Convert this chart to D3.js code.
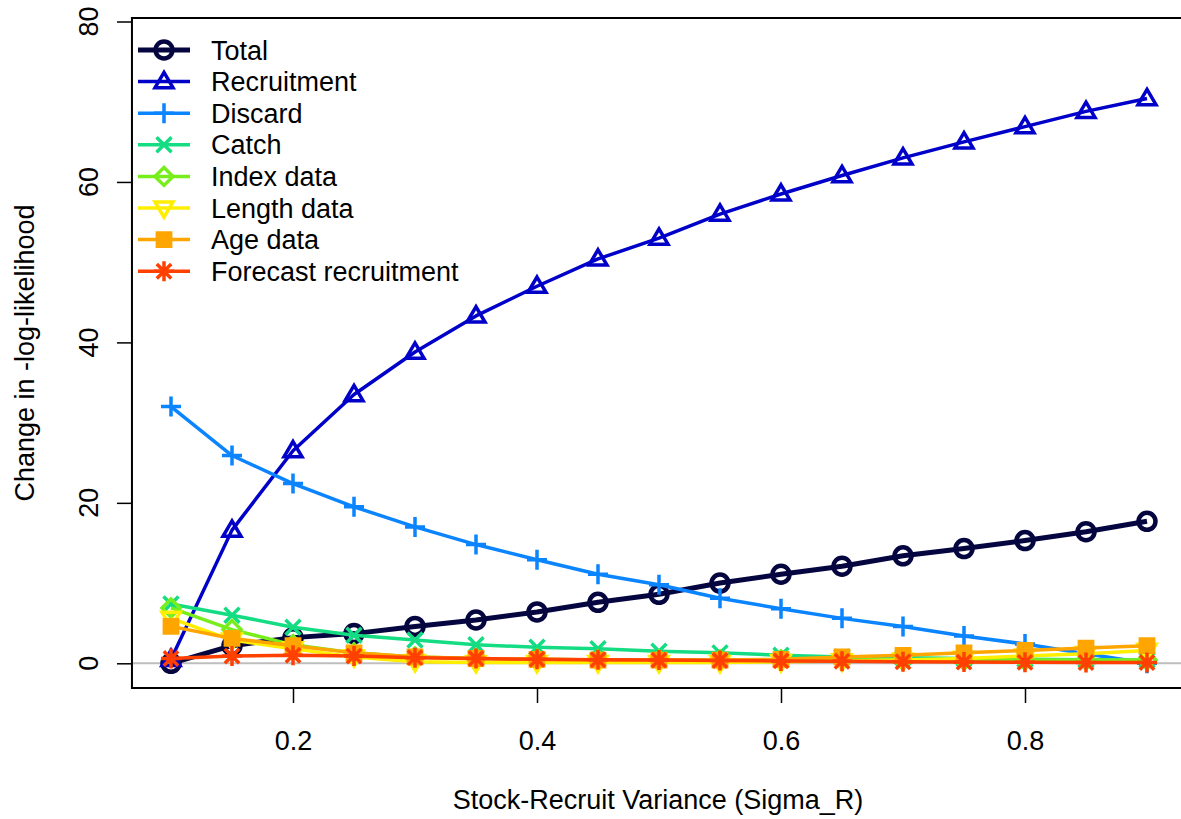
<!DOCTYPE html>
<html>
<head>
<meta charset="utf-8">
<script src="https://cdn.jsdelivr.net/npm/d3@7"></script>
<style>
  html, body { margin: 0; padding: 0; background: #ffffff; }
  svg { display: block; font-family: "Liberation Sans", Arial, sans-serif; }
</style>
</head>
<body>
<svg id="chart" width="1181" height="819"></svg>
<script>
// Sigma_R profile: change in negative log-likelihood by component
const sigmaR = [0.10, 0.15, 0.20, 0.25, 0.30, 0.35, 0.40, 0.45, 0.50,
                0.55, 0.60, 0.65, 0.70, 0.75, 0.80, 0.85, 0.90];

const total       = [0.0, 2.2, 3.2, 3.7, 4.6, 5.4, 6.4, 7.6, 8.6, 10.0, 11.1, 12.1, 13.4, 14.3, 15.3, 16.4, 17.7];
const recruitment = [0.5, 16.6, 26.5, 33.5, 38.8, 43.3, 47.0, 50.4, 53.0, 56.0, 58.5, 60.8, 63.0, 65.0, 66.9, 68.8, 70.4];
const discard     = [32.0, 25.9, 22.4, 19.5, 17.0, 14.8, 12.9, 11.1, 9.8, 8.1, 6.8, 5.6, 4.6, 3.4, 2.4, 1.2, 0.0];
const catchLik    = [7.4, 6.0, 4.5, 3.5, 2.9, 2.3, 2.0, 1.8, 1.5, 1.3, 1.0, 0.8, 0.7, 0.6, 0.5, 0.45, 0.4];
const indexData   = [6.9, 4.2, 2.3, 1.3, 0.8, 0.6, 0.5, 0.4, 0.4, 0.4, 0.4, 0.4, 0.4, 0.4, 0.4, 0.4, 0.4];
const lengthData  = [5.6, 2.9, 1.8, 0.8, 0.2, 0.1, 0.1, 0.1, 0.1, 0.1, 0.2, 0.3, 0.4, 0.6, 0.9, 1.2, 1.6];
const ageData     = [4.6, 3.1, 2.2, 1.3, 0.8, 0.6, 0.5, 0.4, 0.4, 0.4, 0.5, 0.8, 1.0, 1.3, 1.6, 1.9, 2.2];
const forecastRec = [0.6, 0.9, 1.0, 0.9, 0.7, 0.6, 0.5, 0.45, 0.4, 0.35, 0.3, 0.25, 0.2, 0.15, 0.12, 0.1, 0.1];

const seriesNames  = ["Total", "Recruitment", "Discard", "Catch", "Index data",
                      "Length data", "Age data", "Forecast recruitment"];
const seriesValues = [total, recruitment, discard, catchLik, indexData,
                      lengthData, ageData, forecastRec];
const seriesColors = ["#050540", "#0000c8", "#0a84ff", "#14dc82", "#77ee1c",
                      "#ffee00", "#ffa500", "#ff4000"];
const seriesSymbols = ["circle", "triangle", "plus", "cross", "diamond",
                       "triangleDown", "square", "asterisk"];

const xTicks = [0.2, 0.4, 0.6, 0.8];
const yTicks = [0, 20, 40, 60, 80];

const svg = d3.select("#chart");
const FONT = 27;

const x = d3.scaleLinear().domain([0.1, 0.9]).range([171, 1147]);
const y = d3.scaleLinear().domain([0, 80]).range([663.3, 21.5]);

// plot box (extends 4% beyond the data range)
const boxLeft = x(0.068), boxRight = x(0.932);
const boxTop = 18, boxBottom = 688;

// zero reference line
svg.append("line")
  .attr("x1", boxLeft).attr("x2", boxRight)
  .attr("y1", y(0)).attr("y2", y(0))
  .attr("stroke", "#bebebe").attr("stroke-width", 2);

// marker path builders
function symbolPath(type, s) {
  switch (type) {
    case "circle":
      return `M${-s},0A${s},${s} 0 1,0 ${s},0A${s},${s} 0 1,0 ${-s},0Z`;
    case "triangle": {
      const h = s * 1.7;
      return `M0,${-h * 0.6}L${s},${h * 0.4}L${-s},${h * 0.4}Z`;
    }
    case "triangleDown": {
      const h = s * 1.7;
      return `M0,${h * 0.6}L${s},${-h * 0.4}L${-s},${-h * 0.4}Z`;
    }
    case "plus":
      return `M${-s},0L${s},0M0,${-s}L0,${s}`;
    case "cross": {
      const c = s * 0.75;
      return `M${-c},${-c}L${c},${c}M${-c},${c}L${c},${-c}`;
    }
    case "diamond":
      return `M0,${-s}L${s},0L0,${s}L${-s},0Z`;
    case "square": {
      const c = s * 0.7;
      return `M${-c},${-c}L${c},${-c}L${c},${c}L${-c},${c}Z`;
    }
    case "asterisk": {
      const c = s * 0.72;
      return `M${-s},0L${s},0M0,${-s}L0,${s}M${-c},${-c}L${c},${c}M${-c},${c}L${c},${-c}`;
    }
  }
}
const symbolSize = { circle: 8.5, triangle: 9, triangleDown: 9, plus: 10,
                     cross: 10, diamond: 9, square: 9.5, asterisk: 10 };

const line = d3.line().x((d, i) => x(sigmaR[i])).y(d => y(d));

seriesValues.forEach((vals, k) => {
  const g = svg.append("g");
  const lw = k === 0 ? 5 : 3.5;
  g.append("path")
    .attr("d", line(vals))
    .attr("fill", "none")
    .attr("stroke", seriesColors[k])
    .attr("stroke-width", lw)
    .attr("stroke-linejoin", "round");
  g.selectAll("path.pt").data(vals).join("path")
    .attr("class", "pt")
    .attr("transform", (d, i) => `translate(${x(sigmaR[i])},${y(d)})`)
    .attr("d", symbolPath(seriesSymbols[k], symbolSize[seriesSymbols[k]]))
    .attr("fill", seriesSymbols[k] === "square" ? seriesColors[k] : "none")
    .attr("stroke", seriesColors[k])
    .attr("stroke-width", k === 0 ? 4.5 : 3.5)
    .attr("stroke-linejoin", "miter");
});

// box
svg.append("rect")
  .attr("x", boxLeft).attr("y", boxTop)
  .attr("width", boxRight - boxLeft).attr("height", boxBottom - boxTop)
  .attr("fill", "none").attr("stroke", "#000").attr("stroke-width", 2);

// x axis
const xAxis = svg.append("g")
  .attr("transform", `translate(0,${boxBottom})`)
  .call(d3.axisBottom(x).tickValues(xTicks).tickSize(15).tickPadding(28)
        .tickFormat(d3.format(".1f")));
xAxis.select(".domain").remove();
xAxis.selectAll(".tick line").attr("stroke", "#000").attr("stroke-width", 1.5);
xAxis.selectAll(".tick text").attr("font-size", FONT).attr("fill", "#000")
  .attr("font-family", "Liberation Sans, Arial, sans-serif");

// y axis with rotated labels
const yAxis = svg.append("g")
  .attr("transform", `translate(${boxLeft},0)`)
  .call(d3.axisLeft(y).tickValues(yTicks).tickSize(15).tickFormat(""));
yAxis.select(".domain").remove();
yAxis.selectAll(".tick line").attr("stroke", "#000").attr("stroke-width", 1.5);
svg.append("g").selectAll("text").data(yTicks).join("text")
  .attr("transform", d => `translate(98,${y(d)}) rotate(-90)`)
  .attr("text-anchor", "middle")
  .attr("font-size", FONT)
  .text(d => d);

// axis titles
svg.append("text")
  .attr("x", (boxLeft + boxRight) / 2 - 1).attr("y", 809)
  .attr("text-anchor", "middle").attr("font-size", FONT)
  .text("Stock-Recruit Variance (Sigma_R)");
svg.append("text")
  .attr("transform", `translate(34,${(boxTop + boxBottom) / 2}) rotate(-90)`)
  .attr("text-anchor", "middle").attr("font-size", FONT)
  .text("Change in -log-likelihood");

// legend
const legend = svg.append("g");
seriesNames.forEach((name, k) => {
  const ly = 50 + k * 31.6;
  const g = legend.append("g").attr("transform", `translate(0,${ly})`);
  g.append("line").attr("x1", 138).attr("x2", 190).attr("y1", 0).attr("y2", 0)
    .attr("stroke", seriesColors[k]).attr("stroke-width", k === 0 ? 5 : 3.5);
  g.append("path")
    .attr("transform", "translate(164,0)")
    .attr("d", symbolPath(seriesSymbols[k], symbolSize[seriesSymbols[k]]))
    .attr("fill", seriesSymbols[k] === "square" ? seriesColors[k] : "none")
    .attr("stroke", seriesColors[k])
    .attr("stroke-width", k === 0 ? 4.5 : 3.5);
  g.append("text").attr("x", 211).attr("y", 9.5)
    .attr("font-size", FONT).text(name);
});
</script>
</body>
</html>
